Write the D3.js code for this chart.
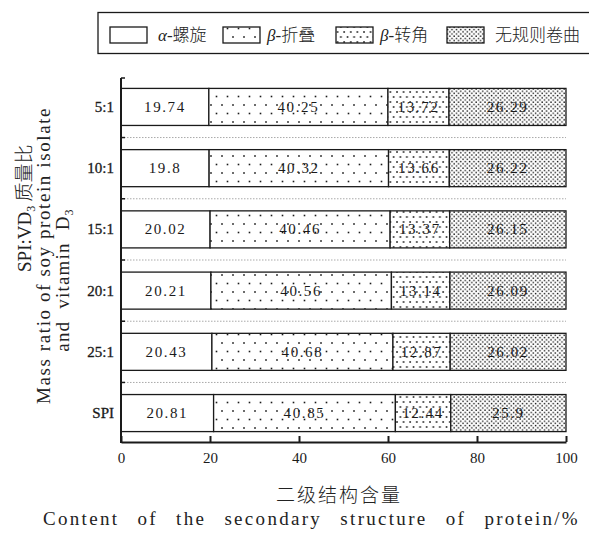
<!DOCTYPE html>
<html>
<head>
<meta charset="utf-8">
<script src="https://cdn.jsdelivr.net/npm/d3@7"></script>
<style>
  html, body { margin: 0; padding: 0; background: #fff; }
  svg { display: block; }
</style>
</head>
<body>
<svg id="chart" width="589" height="534"></svg>
<script>
// Secondary-structure composition (%) for each SPI:VD3 mass ratio
const categories = ["5:1", "10:1", "15:1", "20:1", "25:1", "SPI"];
const alphaHelix = [19.74, 19.8, 20.02, 20.21, 20.43, 20.81];
const betaSheet  = [40.25, 40.32, 40.46, 40.56, 40.68, 40.85];
const betaTurn   = [13.72, 13.66, 13.37, 13.14, 12.87, 12.44];
const randomCoil = [26.29, 26.22, 26.15, 26.09, 26.02, 25.9];
const seriesKeys = ["alpha", "sheet", "turn", "coil"];
const seriesNames = ["α-螺旋", "β-折叠", "β-转角", "无规则卷曲"];
const xTicks = [0, 20, 40, 60, 80, 100];

const rows = categories.map((c, i) => ({
  cat: c, alpha: alphaHelix[i], sheet: betaSheet[i], turn: betaTurn[i], coil: randomCoil[i]
}));

const svg = d3.select("#chart");
const serif = "'Liberation Serif', 'DejaVu Serif', serif";
const cjk = "'Noto Sans CJK SC', sans-serif";
const ink = "#1a1a1a";

// Spread a line of words to a given width by widening the word gaps
function fitWords(sel, width) {
  const node = sel.node();
  const natural = node.getComputedTextLength();
  const gaps = (sel.text().match(/ /g) || []).length;
  if (gaps > 0) sel.attr("word-spacing", Math.max(0, (width - natural) / gaps));
}

// Dot fill patterns for the four structures
const defs = svg.append("defs");
function dotPattern(id, w, h, pts, r) {
  const p = defs.append("pattern").attr("id", id)
    .attr("patternUnits", "userSpaceOnUse").attr("width", w).attr("height", h);
  p.append("rect").attr("width", w).attr("height", h).attr("fill", "#fff");
  pts.forEach(([cx, cy]) => p.append("rect")
    .attr("x", cx - r).attr("y", cy - r).attr("width", 2 * r).attr("height", 2 * r)
    .attr("fill", ink));
}
dotPattern("pat-sheet", 11, 17, [[2, 3], [7.5, 11.5]], 0.8);
dotPattern("pat-turn", 6.6, 10, [[1, 2], [4.3, 7]], 0.8);
dotPattern("pat-coil", 4.4, 4.4, [[1, 1], [3.2, 3.2]], 0.7);
const fills = { alpha: "#fff", sheet: "url(#pat-sheet)", turn: "url(#pat-turn)", coil: "url(#pat-coil)" };

const x = d3.scaleLinear().domain([0, 100]).range([121, 566]);
const y = d3.scaleBand().domain(categories).range([78, 442])
  .paddingInner(0.395).paddingOuter(0.17);

const stacked = d3.stack().keys(seriesKeys)(rows);

// Dotted separators between the bars
const step = y.step();
const gap = step * y.paddingInner();
const seps = categories.slice(1).map(c => y(c) - gap / 2);
svg.append("g").selectAll("line").data(seps).join("line")
  .attr("x1", x(0)).attr("x2", x(100)).attr("y1", d => d).attr("y2", d => d)
  .attr("stroke", "#aaa").attr("stroke-width", 1).attr("stroke-dasharray", "1.5,1.5");

// Stacked bars
const gBars = svg.append("g");
stacked.forEach(s => {
  gBars.append("g").selectAll("rect").data(s).join("rect")
    .attr("x", d => x(d[0])).attr("width", d => x(d[1]) - x(d[0]))
    .attr("y", d => y(d.data.cat)).attr("height", y.bandwidth())
    .attr("fill", fills[s.key]).attr("stroke", ink).attr("stroke-width", 1.3);
});

// Value labels centred in each segment
stacked.forEach(s => {
  gBars.append("g").selectAll("text").data(s).join("text")
    .attr("x", d => x((d[0] + d[1]) / 2)).attr("y", d => y(d.data.cat) + y.bandwidth() / 2 + 5)
    .attr("text-anchor", "middle").attr("font-family", serif).attr("font-size", 15)
    .attr("letter-spacing", 1.6).attr("fill", ink)
    .text(d => String(d.data[s.key]));
});

// Left axis with inward ticks at band boundaries
const gy = svg.append("g");
gy.append("line").attr("x1", x(0)).attr("x2", x(0)).attr("y1", 78).attr("y2", 443)
  .attr("stroke", ink).attr("stroke-width", 2);
gy.selectAll("line.tk").data([78].concat(seps)).join("line").attr("class", "tk")
  .attr("x1", x(0)).attr("x2", x(0) + 4).attr("y1", d => d).attr("y2", d => d)
  .attr("stroke", ink).attr("stroke-width", 1.5);
gy.selectAll("text").data(categories).join("text")
  .attr("x", 114).attr("y", d => y(d) + y.bandwidth() / 2 + 5)
  .attr("text-anchor", "end").attr("font-family", serif).attr("font-size", 15)
  .attr("stroke", ink).attr("stroke-width", 0.3)
  .attr("fill", ink).text(d => d);

// Bottom axis with inward ticks
const gx = svg.append("g").attr("transform", "translate(0,442)")
  .call(d3.axisBottom(x).tickValues(xTicks).tickSizeInner(-6).tickSizeOuter(0).tickPadding(10));
gx.select(".domain").attr("stroke", ink).attr("stroke-width", 2);
gx.selectAll(".tick line").attr("stroke", ink).attr("stroke-width", 2);
gx.selectAll(".tick text").attr("font-family", serif).attr("font-size", 15).attr("fill", ink);

// Axis titles
svg.append("text").attr("x", 339).attr("y", 502).attr("text-anchor", "middle")
  .attr("font-family", cjk).attr("font-size", 19).attr("font-weight", 300)
  .attr("letter-spacing", 2).attr("fill", "#222").text("二级结构含量");
const xt2 = svg.append("text").attr("x", 43).attr("y", 525)
  .attr("font-family", serif).attr("font-size", 19).attr("letter-spacing", 2.3)
  .attr("fill", "#222")
  .text("Content of the secondary structure of protein/%");
fitWords(xt2, 537);

const yt1 = svg.append("text").attr("transform", "translate(31,272) rotate(-90)")
  .attr("font-size", 19).attr("fill", "#222");
yt1.append("tspan").attr("font-family", serif).text("SPI:VD");
yt1.append("tspan").attr("font-family", serif).attr("font-size", 12).attr("dy", 4).text("3");
yt1.append("tspan").attr("font-family", cjk).attr("font-weight", 300).attr("dy", -4).text(" 质量比");

const yt2 = svg.append("text").attr("transform", "translate(50,404) rotate(-90)")
  .attr("font-family", serif).attr("font-size", 19).attr("letter-spacing", 1.6)
  .attr("fill", "#222")
  .text("Mass ratio of soy protein isolate");
fitWords(yt2, 265);

const yt3 = svg.append("text").attr("transform", "translate(69,280) rotate(-90)")
  .attr("text-anchor", "middle").attr("font-family", serif).attr("font-size", 19)
  .attr("letter-spacing", 1.2).attr("word-spacing", 6).attr("fill", "#222");
yt3.append("tspan").text("and vitamin D");
yt3.append("tspan").attr("font-size", 12).attr("dy", 4).text("3");

// Legend
const lg = svg.append("g");
lg.append("rect").attr("x", 98).attr("y", 12.5).attr("width", 500).attr("height", 41)
  .attr("fill", "#fff").attr("stroke", ink).attr("stroke-width", 1.3);
const swX = [110, 223, 336, 447];
const txX = [158, 267, 380, 495];
seriesKeys.forEach((k, i) => {
  lg.append("rect").attr("x", swX[i]).attr("y", 27).attr("width", 37).attr("height", 16)
    .attr("fill", fills[k]).attr("stroke", ink).attr("stroke-width", 1.3);
  const t = lg.append("text").attr("x", txX[i]).attr("y", 41).attr("font-size", 17)
    .attr("fill", "#222");
  const name = seriesNames[i];
  if (name.includes("-")) {
    const [greek, rest] = name.split("-");
    t.append("tspan").attr("font-family", serif).attr("font-style", "italic").text(greek);
    t.append("tspan").attr("font-family", serif).text("-");
    t.append("tspan").attr("font-family", cjk).attr("font-weight", 300).text(rest);
  } else {
    t.append("tspan").attr("font-family", cjk).attr("font-weight", 300).text(name);
  }
});
</script>
</body>
</html>
